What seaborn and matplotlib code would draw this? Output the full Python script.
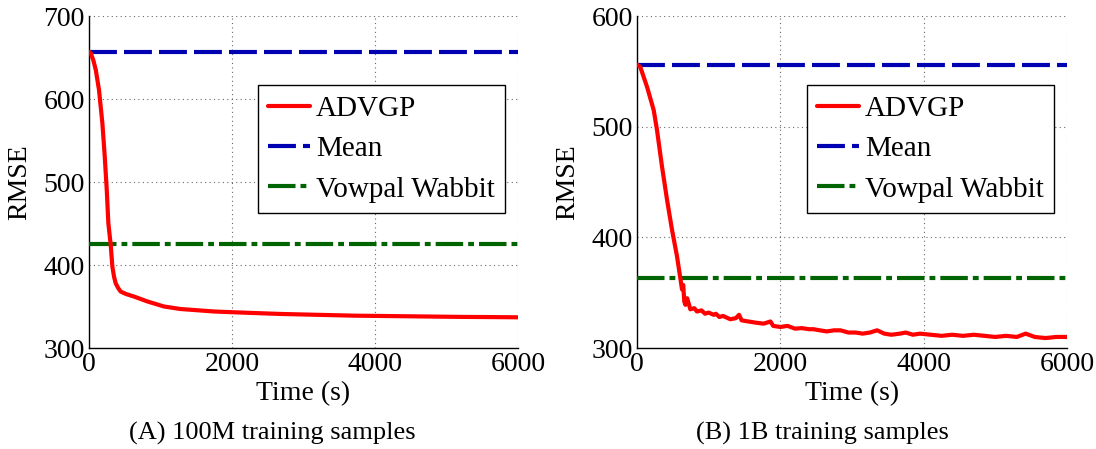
import numpy as np
import pandas as pd
import matplotlib
matplotlib.use('Agg')
import matplotlib.pyplot as plt
import seaborn as sns

# ---- data ----
# (A) 100M training samples
a_time = [0, 25, 60, 95, 140, 187, 220, 248, 271, 303, 327, 350, 373, 410, 443,
          520, 630, 820, 1050, 1280, 1750, 2200, 2700, 3200, 3700, 4200, 4700,
          5200, 5600, 6000]
a_rmse = [657, 655, 647, 635, 611, 571, 531, 491, 450, 425, 398, 386, 378, 372, 368,
          365, 362, 356, 350, 347, 344, 342.5, 341, 340, 339, 338.5, 338,
          337.5, 337.3, 337]
a_mean = 657
a_vw = 425

# (B) 1B training samples
b_time = [0, 46, 140, 233, 279, 349, 419, 488, 558, 605, 628, 645, 660, 676, 700,
          744, 800, 837, 900, 950, 1000, 1070, 1100, 1150, 1200, 1302, 1380, 1424,
          1460, 1550, 1650, 1767, 1863, 1900, 2000, 2100, 2205, 2300, 2400, 2465,
          2550, 2650, 2750, 2839, 2950, 3050, 3150, 3250, 3351, 3450, 3550, 3668,
          3750, 3850, 3950, 4100, 4250, 4400, 4550, 4700, 4850, 5000, 5150, 5300,
          5424, 5550, 5700, 5850, 6000]
b_rmse = [556, 554, 536, 515, 497, 464, 434, 407, 383, 363, 353, 357, 342, 339, 345,
          335, 336, 333, 334, 331, 332, 330, 331, 328, 329, 326, 327, 330,
          325, 324, 323, 322, 324, 320, 319, 320, 317.5, 318, 317, 317,
          316, 315, 316, 316, 314, 314, 313, 314, 316, 313, 312, 313,
          314, 312, 313, 312, 311, 312, 311, 312, 311, 310, 311, 310,
          313, 310, 309, 310, 310]
b_mean = 556
b_vw = 363

x_ticks = [0, 2000, 4000, 6000]
a_yticks = [300, 400, 500, 600, 700]
b_yticks = [300, 400, 500, 600]
captions = ['(A) 100M training samples', '(B) 1B training samples']

sns.set_style('white')
plt.rcParams['font.family'] = ['Liberation Serif', 'DejaVu Serif']
for k in ['text.color', 'axes.labelcolor', 'xtick.color', 'ytick.color']:
    plt.rcParams[k] = 'black'

RED, BLUE, GREEN = '#ff0000', '#0000b3', '#006400'
LW = 3.0

fig = plt.figure(figsize=(10.96, 4.49), dpi=100)
ax_a = fig.add_axes([0.0812, 0.2249, 0.3914, 0.7394])
ax_b = fig.add_axes([0.5812, 0.2249, 0.3923, 0.7394])

panels = [
    (ax_a, a_time, a_rmse, a_mean, a_vw, a_yticks),
    (ax_b, b_time, b_rmse, b_mean, b_vw, b_yticks),
]

for ax, t, r, m, vw, yt in panels:
    df = pd.DataFrame({'Time': t, 'RMSE': r})
    flat = pd.DataFrame({'Time': [x_ticks[0], x_ticks[-1]],
                         'Mean': [m, m], 'VW': [vw, vw]})
    sns.lineplot(data=df, x='Time', y='RMSE', ax=ax, color=RED, lw=LW,
                 label='ADVGP', zorder=4)
    sns.lineplot(data=flat, x='Time', y='Mean', ax=ax, color=BLUE, lw=LW,
                 label='Mean', zorder=3)
    sns.lineplot(data=flat, x='Time', y='VW', ax=ax, color=GREEN, lw=LW,
                 label='Vowpal Wabbit', zorder=3)
    ax.lines[1].set_dashes([6.7, 1.7])
    ax.lines[2].set_dashes([6.6, 1.2, 1.4, 1.2])

    ax.set_xlim(x_ticks[0], x_ticks[-1])
    ax.set_ylim(yt[0], yt[-1])
    ax.set_xticks(x_ticks)
    ax.set_yticks(yt)
    ax.grid(True, linestyle=(0, (1, 3)), color='#444444', lw=0.8, alpha=0.8)
    ax.set_axisbelow(True)
    for s in ['top', 'right']:
        ax.spines[s].set_visible(False)
    for s in ['left', 'bottom']:
        ax.spines[s].set_color('black')
        ax.spines[s].set_linewidth(1.0)
    ax.tick_params(direction='in', length=4, width=0.8, labelsize=20, pad=3)
    ax.set_xlabel('Time (s)', fontsize=20, labelpad=3)
    ax.set_ylabel('RMSE', fontsize=20, labelpad=8)

    leg = ax.legend(loc='upper right', bbox_to_anchor=(0.970, 0.792),
                    borderaxespad=0, fontsize=21, handlelength=1.45,
                    handletextpad=0.2, borderpad=0.35, labelspacing=0.48,
                    fancybox=False, framealpha=1, edgecolor='black')
    leg.get_frame().set_linewidth(1.0)

fig.text(0.2488, 0.034, captions[0], ha='center', va='center', fontsize=19)
fig.text(0.7505, 0.034, captions[1], ha='center', va='center', fontsize=19)

fig.savefig('out.png', dpi=100)
